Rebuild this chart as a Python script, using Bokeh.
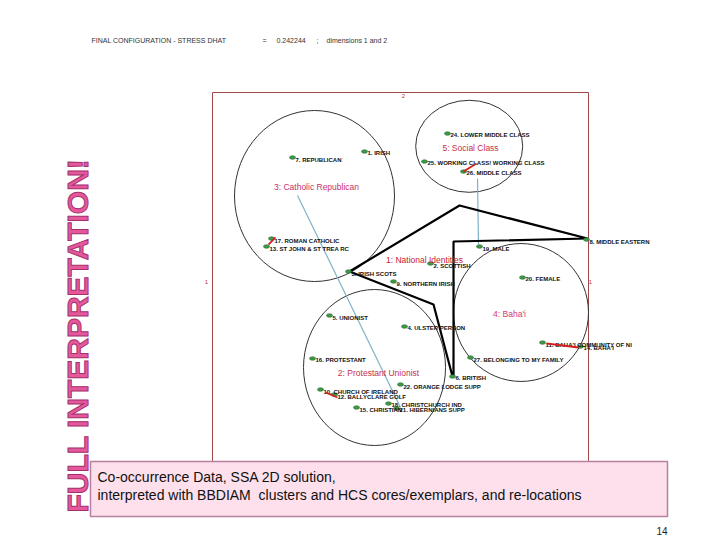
from math import pi
from bokeh.plotting import figure
from bokeh.models import Range1d, ColumnDataSource, Label
from bokeh.embed import file_html
from bokeh.resources import INLINE
from bokeh.core.properties import value

# ---------------- data: SSA configuration, dimensions 1 (u) and 2 (v), frame 0..100 ----------
point_labels = [
    "1. IRISH", "7.  REPUBLICAN", "24. LOWER MIDDLE CLASS", "25. WORKING CLASS! WORKING CLASS",
    "26. MIDDLE CLASS", "17. ROMAN CATHOLIC", "13. ST JOHN & ST TREA RC", "3. IRISH SCOTS",
    "9. NORTHERN IRISH", "2. SCOTTISH", "19. MALE", "8. MIDDLE EASTERN", "20. FEMALE",
    "5. UNIONIST", "4. ULSTER PERSON", "16. PROTESTANT", "6. BRITISH",
    "27. BELONGING TO MY FAMILY", "22. ORANGE LODGE SUPP", "12. BALLYCLARE GOLF",
    "10. CHURCH OF IRELAND", "18. CHRISTCHURCH IND", "15. CHRISTIAN", "21. HIBERNIANS SUPP",
    "11. BAHA'I COMMUNITY OF NI", "14. BAHA'I",
]
point_u = [40.43, 21.28, 62.50, 56.38, 66.76, 15.69, 14.36, 36.17, 48.14, 57.98, 71.01, 99.47,
           82.45, 31.12, 51.06, 26.60, 63.83, 68.62, 50.00, 32.45, 28.72, 46.81, 38.30, 48.94,
           87.77, 97.87]
point_v = [84.31, 82.71, 89.10, 81.65, 78.99, 61.17, 59.04, 52.39, 49.73, 54.52, 59.04, 60.90,
           50.80, 40.69, 37.77, 29.26, 24.47, 29.52, 22.34, 19.68, 21.01, 17.29, 16.22, 15.96,
           33.51, 32.45]

# clusters (BBDIAM regions)
cluster_names = ["3: Catholic Republican", "5: Social Class", "4: Baha'i", "2: Protestant Unionist"]
cluster_u = [27.13, 68.27, 82.05, 43.09]
cluster_v = [72.47, 85.69, 41.49, 26.86]
cluster_w = [42.55, 28.46, 35.90, 37.77]
cluster_h = [45.48, 24.47, 36.70, 41.49]

label_names = ["3: Catholic Republican", "5: Social Class", "1: National Identities",
               "4: Baha'i", "2: Protestant Unionist"]
label_u = [27.66, 68.62, 56.38, 78.99, 44.15]
label_v = [75.00, 85.37, 55.32, 40.96, 25.27]
label_colors = ["#c8306a", "#c83044", "#c8202c", "#d03a78", "#c8304a"]

# National Identities hull
hull_u = [63.83, 58.78, 36.44, 65.69, 99.73, 64.10, 64.10]
hull_v = [24.47, 43.62, 52.39, 69.95, 61.17, 60.37, 24.47]

# HCS core links (blue) and re-locations (red)
core_x0 = [22.61, 70.48]
core_y0 = [72.61, 77.13]
core_x1 = [50.00, 70.74]
core_y1 = [16.22, 59.57]

reloc_x0 = [14.89, 66.76, 30.05, 88.83]
reloc_y0 = [59.57, 78.99, 20.21, 33.24]
reloc_x1 = [16.76, 70.21, 33.24, 97.34]
reloc_y1 = [61.44, 81.12, 18.88, 32.18]

axis_tick_text = ["2", "1", "1"]
axis_tick_u = [50.8, -1.6, 100.5]
axis_tick_v = [98.94, 49.73, 49.73]

# ---------------- layout helpers (page pixels -> plot units) ----------------
S = 3.76          # pixels per unit
FL, FB = 212, 468  # frame left / bottom on the page
W, H = 716, 536
FONT = "Liberation Sans"
def ux(px):
    return (px - FL) / S
def uy(py):
    return (FB - py) / S

p = figure(width=W, height=H, output_backend="svg", toolbar_location=None,
           x_range=Range1d(ux(0), ux(W)), y_range=Range1d(uy(H), uy(0)),
           x_axis_location=None, y_axis_location=None, min_border=0,
           outline_line_color=None, background_fill_color="white", border_fill_color="white")
p.grid.visible = False

# frame of the SSA plot
p.quad(left=[0], right=[100], bottom=[0], top=[100], fill_color=None,
       line_color="#a04848", line_width=1)

# cluster circles
cs = ColumnDataSource(dict(x=cluster_u, y=cluster_v, w=cluster_w, h=cluster_h))
p.ellipse(x="x", y="y", width="w", height="h", source=cs, fill_color=None,
          line_color="#333333", line_width=1)

# blue core lines
p.segment(x0=core_x0, y0=core_y0, x1=core_x1, y1=core_y1, line_color="#7fb3c8", line_width=1.2)

# hull
p.line(hull_u, hull_v, line_color="black", line_width=2.2)

# points
ps = ColumnDataSource(dict(x=point_u, y=point_v, t=point_labels))
dots = p.ellipse(x="x", y="y", width=6, height=3.5, source=ps, fill_color="#3c9a48",
                 line_color="#2a6a30", line_width=0.6)
dots.glyph.width_units = "screen"
dots.glyph.height_units = "screen"
p.text(x="x", y="y", text="t", source=ps, x_offset=3, y_offset=2,
       text_font=value(FONT), text_font_style="bold", text_font_size="6px",
       text_color="#111111", text_baseline="middle", text_align="left")

# re-location lines
p.segment(x0=reloc_x0, y0=reloc_y0, x1=reloc_x1, y1=reloc_y1, line_color="#d02020", line_width=1.8)

# cluster names
ls = ColumnDataSource(dict(x=label_u, y=label_v, t=label_names, c=label_colors))
p.text(x="x", y="y", text="t", color="c", source=ls, text_font=value(FONT),
       text_font_size="8.5px", text_align="center", text_baseline="middle")

# axis numbers
p.text(x=axis_tick_u, y=axis_tick_v, text=axis_tick_text, text_font=value(FONT),
       text_font_size="6px", text_color="#c03030", text_align="center", text_baseline="middle")

# title line
title_parts = ["FINAL CONFIGURATION - STRESS DHAT", "=", "0.242244", ";", "dimensions 1 and 2"]
title_px = [91, 262, 276, 316, 326]
for t, xp in zip(title_parts, title_px):
    p.add_layout(Label(x=ux(xp), y=uy(40), text=t, text_font=FONT, text_font_size="7px",
                       text_color="#333333", text_baseline="middle"))

# slide caption box
p.quad(left=[ux(90)], right=[ux(667)], top=[uy(461)], bottom=[uy(516)],
       fill_color="#fde0ec", line_color="#b8809c", line_width=1.5)
p.add_layout(Label(x=ux(97), y=uy(476), text="Co-occurrence Data, SSA 2D solution,",
                   text_font=FONT, text_font_size="14px",
                   text_color="#111111", text_baseline="middle"))
p.add_layout(Label(x=ux(97), y=uy(494),
                   text="interpreted with BBDIAM\u00a0 clusters and HCS cores/exemplars, and re-locations",
                   text_font=FONT, text_font_size="14px",
                   text_color="#111111", text_baseline="middle"))

# vertical slide title
p.add_layout(Label(x=ux(77), y=uy(512), text="FULL INTERPRETATION!", angle=pi / 2,
                   text_font=FONT, text_font_style="bold",
                   text_font_size="30px", text_color="#e4589c",
                   text_outline_color="#a8306a", text_baseline="alphabetic"))

# page number
p.add_layout(Label(x=ux(667), y=uy(530), text="14", text_font=FONT,
                   text_font_size="10px", text_color="#222222", text_align="right",
                   text_baseline="middle"))

open("out.html", "w").write(file_html(p, INLINE))
